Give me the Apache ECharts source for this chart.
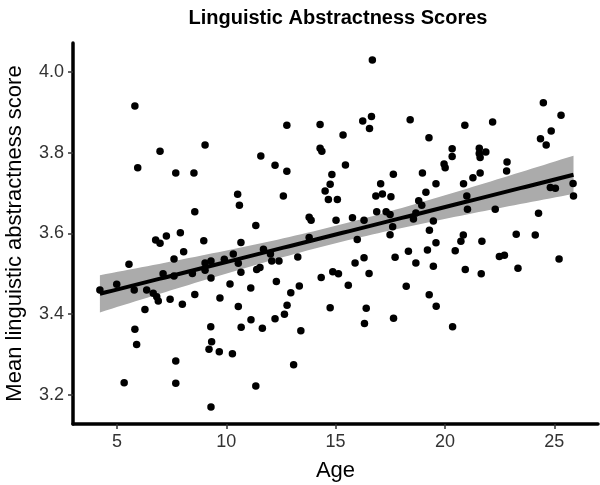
<!DOCTYPE html>
<html>
<head>
<meta charset="utf-8">
<script src="https://cdn.jsdelivr.net/npm/echarts@6/dist/echarts.min.js"></script>
<style>
    html, body {margin: 0; padding: 0; background: #fff;}
    #chart {width: 600px; height: 485px;}
</style>
</head>
<body>
<div id="chart"></div>
<script>
// values
const ages = [
    5.82, 6.97, 5.95, 7.69, 8.52,
    12.77, 14.29, 9.03, 11.58, 14.29, 14.37, 12.23, 12.77, 14.83, 14.75,
    16.68, 16.24, 16.64, 16.55, 18.41, 20.91, 15.34, 19.27, 20.33, 20.33, 15.45, 19.96, 20.01, 17.64, 18.97, 17.06, 19.59, 20.85,
    24.50, 25.31, 22.18, 24.86, 24.37, 24.63, 21.57, 21.87, 21.57, 21.61, 22.84, 22.82, 21.61, 21.28, 25.86,
    8.56, 6.77, 6.97, 7.26, 7.90, 8.05, 7.61, 5.55, 7.11, 7.61, 8.45, 4.99, 4.22, 5.79, 6.36, 6.66, 6.82, 6.89, 7.43, 7.99, 8.56, 6.28,
    10.52, 10.60, 12.61, 11.35, 8.97, 10.67, 14.52, 14.67, 13.79, 13.88, 13.79, 11.70, 10.32, 12.02, 9.91, 9.30, 9.03, 10.55,
    12.08, 12.41, 13.27, 9.03, 10.67, 11.54, 11.39, 9.30, 14.87, 14.34, 12.29, 10.17, 11.12, 13.34, 12.95, 9.71, 10.55, 12.78,
    16.84, 17.14, 17.53, 15.08, 19.13, 18.80, 18.94, 16.88, 17.31, 17.49, 18.67, 18.56, 15.02, 15.77, 16.30, 19.47, 17.61, 19.29,
    21.03, 21.00, 17.49, 15.99, 20.84, 20.73, 19.59, 20.47, 19.20, 18.33, 17.72, 16.30, 15.89, 18.67, 19.47, 20.93, 15.13, 16.53,
    15.58, 18.23, 19.28, 19.60, 16.40,
    25.88, 24.82, 25.05, 22.30, 24.28, 21.69, 23.26, 24.13, 22.49, 22.72, 25.22, 21.66, 23.34,
    5.82, 5.90, 7.69, 5.33, 7.69,
    14.75, 9.29, 10.68, 11.13, 11.65, 12.23, 12.66, 13.41, 9.33, 9.21, 9.68, 10.28, 13.08, 11.35, 9.30,
    16.32, 17.65, 20.35
];
const scores = [
    3.916, 3.804, 3.763, 3.750, 3.750,
    3.868, 3.870, 3.819, 3.792, 3.811, 3.804, 3.769, 3.754, 3.746, 3.722,
    4.030, 3.879, 3.890, 3.860, 3.882, 3.868, 3.844, 3.837, 3.810, 3.791, 3.770, 3.772, 3.763, 3.747, 3.750, 3.723, 3.723, 3.723,
    3.924, 3.893, 3.876, 3.854, 3.835, 3.819, 3.811, 3.802, 3.798, 3.788, 3.777, 3.755, 3.750, 3.738, 3.724,
    3.654, 3.584, 3.576, 3.594, 3.602, 3.555, 3.537, 3.524, 3.500, 3.495, 3.501, 3.474, 3.460, 3.460, 3.460, 3.452, 3.443, 3.433, 3.437, 3.425, 3.449, 3.412,
    3.697, 3.670, 3.693, 3.620, 3.582, 3.578, 3.705, 3.684, 3.640, 3.633, 3.590, 3.561, 3.549, 3.549, 3.536, 3.532, 3.527, 3.526,
    3.532, 3.532, 3.542, 3.509, 3.504, 3.516, 3.511, 3.490, 3.505, 3.491, 3.481, 3.475, 3.465, 3.470, 3.453, 3.440, 3.419, 3.422,
    3.693, 3.698, 3.691, 3.684, 3.702, 3.681, 3.670, 3.654, 3.654, 3.647, 3.651, 3.636, 3.633, 3.639, 3.633, 3.631, 3.617, 3.608,
    3.660, 3.693, 3.597, 3.585, 3.596, 3.581, 3.577, 3.557, 3.559, 3.556, 3.541, 3.540, 3.527, 3.527, 3.519, 3.511, 3.500, 3.501,
    3.472, 3.469, 3.448, 3.420, 3.415,
    3.693, 3.714, 3.712, 3.660, 3.650, 3.581, 3.598, 3.596, 3.543, 3.546, 3.537, 3.500, 3.514,
    3.363, 3.325, 3.284, 3.230, 3.229,
    3.416, 3.369, 3.368, 3.386, 3.365, 3.389, 3.400, 3.359, 3.332, 3.313, 3.307, 3.302, 3.275, 3.222, 3.170,
    3.377, 3.390, 3.369
];
const xTicks = [5, 10, 15, 20, 25];
const yTicks = [3.2, 3.4, 3.6, 3.8, 4.0];

let chart = echarts.init(document.getElementById('chart'));

// linear fit with 95% band, from the points above
let n = ages.length;
let mx = 0, my = 0;
for (let i = 0; i < n; i++) { mx += ages[i]; my += scores[i]; }
mx /= n; my /= n;
let sxx = 0, sxy = 0;
for (let i = 0; i < n; i++) {
    sxx += (ages[i] - mx) * (ages[i] - mx);
    sxy += (ages[i] - mx) * (scores[i] - my);
}
let slope = sxy / sxx;
let icpt = my - slope * mx;
let rss = 0;
for (let i = 0; i < n; i++) {
    let r = scores[i] - (icpt + slope * ages[i]);
    rss += r * r;
}
let sigma = Math.sqrt(rss / (n - 2));
let tq = 1.973;

let xLo = Math.min.apply(null, ages), xHi = Math.max.apply(null, ages);
let fitLine = [], bandLow = [], bandHigh = [];
for (let k = 0; k <= 80; k++) {
    let x = xLo + (xHi - xLo) * k / 80;
    let f = icpt + slope * x;
    let se = sigma * Math.sqrt(1 / n + (x - mx) * (x - mx) / sxx);
    fitLine.push([x, f]);
    bandLow.push([x, f - tq * se]);
    bandHigh.push([x, f + tq * se]);
}

let points = ages.map((a, i) => [a, scores[i]]);
let font = "'Liberation Sans', Arial, sans-serif";

let option = {
    animation: false,
    title: {
        text: 'Linguistic Abstractness Scores',
        left: 333,
        top: 3,
        textAlign: 'center',
        textStyle: {fontFamily: font, fontSize: 20, fontWeight: 'bold', color: '#000'}
    },
    grid: {left: 73, right: 2, top: 43, bottom: 61, outerBoundsMode: 'none', containLabel: false},
    xAxis: {
        type: 'value',
        min: 2.99,
        max: 27.0,
        name: 'Age',
        nameLocation: 'middle',
        nameGap: 36,
        nameTextStyle: {fontFamily: font, fontSize: 22, color: '#000'},
        splitLine: {show: false},
        axisLine: {lineStyle: {color: '#000', width: 3.5}},
        axisTick: {customValues: xTicks, length: 5, lineStyle: {color: '#333', width: 1.5}},
        axisLabel: {customValues: xTicks, margin: 9, fontFamily: font, fontSize: 18, color: '#333'}
    },
    yAxis: {
        type: 'value',
        min: 3.128,
        max: 4.072,
        name: 'Mean linguistic abstractness score',
        nameLocation: 'middle',
        nameGap: 47,
        nameTextStyle: {fontFamily: font, fontSize: 22, color: '#000'},
        splitLine: {show: false},
        axisLine: {show: true, lineStyle: {color: '#000', width: 3.5}},
        axisTick: {show: true, customValues: yTicks, length: 5, lineStyle: {color: '#333', width: 1.5}},
        axisLabel: {
            customValues: yTicks,
            margin: 9,
            fontFamily: font,
            fontSize: 18,
            color: '#333',
            formatter: function (v) { return v.toFixed(1); }
        }
    },
    series: [
        {
            name: 'band',
            type: 'custom',
            data: bandHigh,
            silent: true,
            z: 1,
            renderItem: function (params, api) {
                if (params.dataIndex !== 0) return;
                let pts = [];
                for (let i = 0; i < bandHigh.length; i++) pts.push(api.coord(bandHigh[i]));
                for (let i = bandLow.length - 1; i >= 0; i--) pts.push(api.coord(bandLow[i]));
                return {
                    type: 'polygon',
                    shape: {points: pts},
                    style: {fill: '#ababab'}
                };
            }
        },
        {
            name: 'points',
            type: 'scatter',
            data: points,
            symbolSize: 7.5,
            itemStyle: {color: '#000', opacity: 1},
            z: 2
        },
        {
            name: 'fit',
            type: 'line',
            data: fitLine,
            symbol: 'none',
            lineStyle: {color: '#000', width: 4},
            z: 3
        }
    ]
};

chart.setOption(option);
</script>
</body>
</html>
